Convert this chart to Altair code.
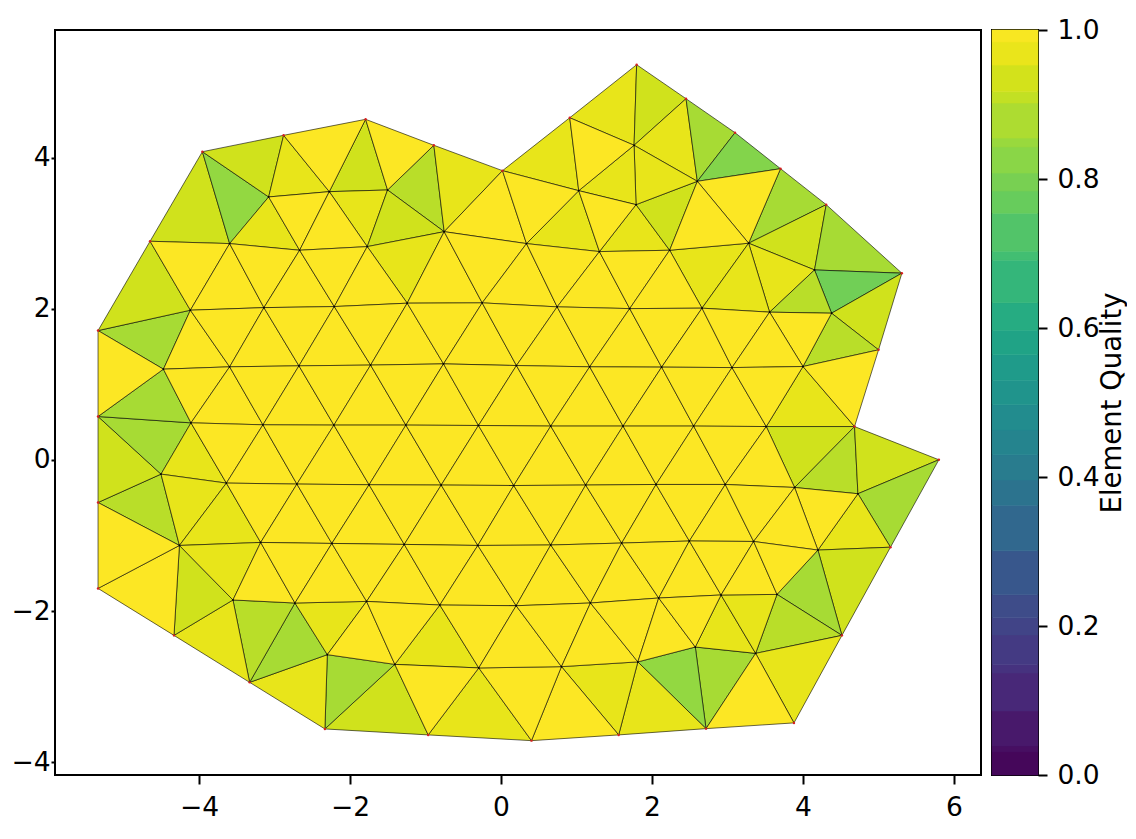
import altair as alt
import pandas as pd

# mesh nodes: name, x, y
boundary_names = ["B1","B2","B3","B4","B5","B6","B7","B8","B9","B10","B11","B12","B13","B14","B15","B16","B17","B18","B19","B20","B21","B22","B23","B24","B25","B26","B27","B28","B29","B30"]
boundary_x = [-3.955,-2.879,-1.793,-0.889,0.020,0.911,1.797,2.451,3.100,3.703,4.308,5.310,5.001,4.683,5.800,5.159,4.516,3.881,2.716,1.559,0.404,-0.964,-2.332,-3.329,-4.331,-5.337,-5.337,-5.337,-5.337,-4.648]
boundary_y = [4.083,4.300,4.512,4.168,3.832,4.533,5.235,4.785,4.335,3.858,3.382,2.474,1.459,0.443,0.003,-1.155,-2.323,-3.482,-3.558,-3.641,-3.717,-3.641,-3.562,-2.945,-2.323,-1.701,-0.563,0.576,1.714,2.897]

interior_names = ["I1","I2","I3","I4","u1","u2","u3",
    "a1","a2","a3","a4","a5","a6","a7","a8","a9","a10",
    "b1","b2","b3","b4","b5","b6","b7","b8","b9",
    "c1","c2","c3","c4","c5","c6","c7","c8","c9","c10",
    "d1","d2","d3","d4","d5","d6","d7","d8","d9",
    "e0","e1","e2","e3","e4","e5","e6","e7","e8","e9","e10",
    "f1","f2","f3","f4","f5","f6","f7","f8","f9","f10",
    "g1","g2","g3","g4","g5","g6","g7","g8","g9",
    "h1","h2","h3","h4","h5","h6","h7"]
interior_x = [1.763,1.030,1.789,2.601,-3.077,-2.274,-1.502,
    -3.594,-2.667,-1.771,-0.752,0.338,1.304,2.234,3.280,4.153,4.379,
    -4.114,-3.140,-2.208,-1.242,-0.249,0.744,1.705,2.663,3.558,
    -4.471,-3.594,-2.676,-1.727,-0.761,0.205,1.175,2.128,3.060,4.000,
    -4.106,-3.153,-2.213,-1.260,-0.298,0.659,1.617,2.552,3.514,
    -4.503,-3.637,-2.703,-1.747,-0.792,0.169,1.122,2.054,2.971,3.889,4.728,
    -4.259,-3.183,-2.240,-1.281,-0.307,0.659,1.599,2.495,3.346,4.198,
    -3.550,-2.729,-1.780,-0.810,0.201,1.185,2.089,2.915,3.656,
    -2.300,-1.406,-0.294,0.801,1.813,2.574,3.373]
interior_y = [4.168,3.567,3.382,3.691,3.484,3.554,3.576,
    2.866,2.778,2.826,3.024,2.866,2.760,2.778,2.871,2.517,1.944,
    1.984,2.018,2.032,2.077,2.081,2.028,2.005,2.011,1.958,
    1.203,1.234,1.247,1.257,1.273,1.251,1.234,1.230,1.224,1.238,
    0.492,0.466,0.462,0.462,0.457,0.449,0.449,0.449,0.443,
    -0.187,-0.306,-0.319,-0.328,-0.332,-0.338,-0.332,-0.324,-0.324,-0.364,-0.447,
    -1.132,-1.092,-1.105,-1.118,-1.132,-1.126,-1.100,-1.073,-1.079,-1.193,
    -1.854,-1.894,-1.873,-1.921,-1.930,-1.894,-1.828,-1.788,-1.780,
    -2.578,-2.707,-2.754,-2.737,-2.674,-2.477,-2.561]

# element quality levels read from the fill colours
Y, L, M, N, P, Q, R, S = 0.998, 0.965, 0.93, 0.895, 0.87, 0.84, 0.815, 0.785

elements_off_yellow = [
 ("B30 B1 a1",M),("B1 u1 a1",Q),("B1 B2 u1",M),("B2 u2 u1",L),("B3 u3 u2",M),("B4 a4 u3",N),("B4 B5 a4",L),
 ("B5 B6 I2",L),("B6 B7 I1",L),("B7 B8 I1",M),("I1 B8 I4",L),("B8 B9 I4",P),("B9 B10 I4",R),("B10 B11 a8",P),
 ("B11 a9 a8",M),("B11 B12 a9",P),("a9 B12 a10",S),("a8 a9 b9",L),("a9 a10 b9",N),("a10 B12 B13",M),("a10 B13 c10",N),
 ("d9 c10 B14",L),("d9 B14 e9",M),("B14 e10 e9",N),("B14 B15 e10",M),("e10 B15 B16",P),("f10 e10 B16",L),("f10 B16 B17",M),
 ("g9 f10 B17",P),("g9 B17 h7",N),("h7 B17 B18",L),("h6 h7 B19",P),("h5 h6 B19",Q),("h5 B19 B20",L),("h4 h5 B20",L),
 ("h3 B21 B22",L),("h2 B22 B23",M),("h1 h2 B23",P),("h1 B23 B24",L),("B24 g2 h1",P),("g1 g2 B24",N),("g1 B24 B25",L),
 ("f1 g1 B25",M),("e0 f1 B27",N),("e0 B27 B28",M),("d1 e0 B28",P),("c1 d1 B28",P),("b1 c1 B29",P),("b1 B29 B30",M),
 ("u1 a1 a2",L),("u2 u3 a3",L),("u3 a4 a3",M),("a3 a4 b4",L),("a5 I2 a6",L),("a6 I3 a7",L),("I3 I4 a7",M),("I3 I1 I4",L),
 ("I2 I1 I3",L),("a7 a8 b8",L),("a8 b9 b8",L),("d1 e1 e0",L),("e0 e1 f1",L),("e1 f1 f2",L),("f1 f2 g1",L),("g2 g3 h1",L),
 ("g4 h2 h3",L),("g8 h6 h7",L),("g8 g9 h7",L),
]
elements_yellow = """B2 B3 u2;B3 B4 u3;B5 a5 a4;B5 I2 a5;B6 I1 I2;I4 B10 a8;b9 a10 c10;c10 B13 B14;e9 e10 f10;h7 B18 B19;
h4 B20 B21;h3 h4 B21;h2 h3 B22;f1 B25 B26;f1 B26 B27;c1 B28 B29;a1 b1 B30;b1 b2 a1;a1 a2 b2;u1 u2 a2;u2 a3 a2;
a4 b5 b4;a4 a5 b5;a5 b6 b5;a5 a6 b6;a6 b7 b6;I2 I3 a6;I4 a8 a7;a6 a7 b7;a7 b8 b7;a2 b3 b2;a2 a3 b3;a3 b4 b3;
c1 c2 b1;b1 b2 c2;c2 c3 b2;b2 b3 c3;c3 c4 b3;b3 b4 c4;c4 c5 b4;b4 b5 c5;c5 c6 b5;b5 b6 c6;c6 c7 b6;b6 b7 c7;c7 c8 b7;b7 b8 c8;c8 c9 b8;b8 b9 c9;c9 c10 b9;
c1 c2 d1;d1 d2 c2;c2 c3 d2;d2 d3 c3;c3 c4 d3;d3 d4 c4;c4 c5 d4;d4 d5 c5;c5 c6 d5;d5 d6 c6;c6 c7 d6;d6 d7 c7;c7 c8 d7;d7 d8 c8;c8 c9 d8;d8 d9 c9;c9 c10 d9;
d1 d2 e1;d2 e1 e2;d2 d3 e2;d3 e2 e3;d3 d4 e3;d4 e3 e4;d4 d5 e4;d5 e4 e5;d5 d6 e5;d6 e5 e6;d6 d7 e6;d7 e6 e7;d7 d8 e7;d8 e7 e8;d8 d9 e8;d9 e8 e9;
e1 e2 f2;e2 f2 f3;e2 e3 f3;e3 f3 f4;e3 e4 f4;e4 f4 f5;e4 e5 f5;e5 f5 f6;e5 e6 f6;e6 f6 f7;e6 e7 f7;e7 f7 f8;e7 e8 f8;e8 f8 f9;e8 e9 f9;e9 f9 f10;
f2 g1 g2;f2 f3 g2;f3 g2 g3;f3 f4 g3;f4 g3 g4;f4 f5 g4;f5 g4 g5;f5 f6 g5;f6 g5 g6;f6 f7 g6;f7 g6 g7;f7 f8 g7;f8 g7 g8;f8 f9 g8;f9 g8 g9;f9 f10 g9;
g3 h1 h2;g3 g4 h2;g4 g5 h3;g5 h3 h4;g5 g6 h4;g6 h4 h5;g6 g7 h5;g7 h5 h6;g7 g8 h6"""

# colourbar band edges
band_edges = [0,.031,.039,.086,.137,.148,.188,.211,.242,.301,.362,.396,.43,.463,.497,.53,.564,.597,.634,.691,.703,.754,.784,.808,.843,.855,.902,.917,.953,.984,1.0]

x_ticks = [-4,-2,0,2,4,6]
y_ticks = [-4,-2,0,2,4]
cb_ticks = [0,0.2,0.4,0.6,0.8,1.0]

nodes = {}
for n, x, y in zip(boundary_names + interior_names, boundary_x + interior_x, boundary_y + interior_y):
    nodes[n] = (x, y)

elements = list(elements_off_yellow) + [(s.strip(), Y) for s in elements_yellow.replace("\n", "").split(";")]
rows = []
for i, (tri, q) in enumerate(elements):
    for k, n in enumerate(tri.split()):
        rows.append({"tri": i, "k": k, "x": nodes[n][0], "y": nodes[n][1], "q": q})
mesh = pd.DataFrame(rows)
pts = pd.DataFrame({"x": boundary_x, "y": boundary_y})
inner = pd.DataFrame({"x": interior_x, "y": interior_y})
bands = pd.DataFrame({"lo": band_edges[:-1], "hi": band_edges[1:]})
bands["mid"] = (bands.lo + bands.hi) / 2

xs = alt.Scale(domain=[-5.907, 6.358], nice=False, zero=False)
ys = alt.Scale(domain=[-4.172, 5.695], nice=False, zero=False)
cs = alt.Scale(scheme="viridis", domain=[0, 1])
FONT = "DejaVu Sans"
FS = 26.5

x_axis = alt.Axis(values=x_ticks, title=None, grid=False, domain=False, tickSize=9, tickWidth=2, tickColor="black",
                  labelFont=FONT, labelFontSize=FS, labelColor="black", labelPadding=10, format="d")
y_axis = alt.Axis(values=y_ticks, title=None, grid=False, domain=False, tickSize=4, tickWidth=2, tickColor="black",
                  labelFont=FONT, labelFontSize=FS, labelColor="black", labelPadding=1, format="d", minExtent=46, maxExtent=46)

tris = alt.Chart(mesh).mark_line(interpolate="linear-closed", stroke="#000000", strokeWidth=0.6).encode(
    x=alt.X("x:Q", scale=xs, axis=x_axis),
    y=alt.Y("y:Q", scale=ys, axis=y_axis),
    detail="tri:N",
    order="k:O",
    fill=alt.Fill("q:Q", scale=cs, legend=None),
)
inner_dots = alt.Chart(inner).mark_circle(size=3, color="#000000", opacity=1).encode(
    x=alt.X("x:Q", scale=xs), y=alt.Y("y:Q", scale=ys))
dots = alt.Chart(pts).mark_circle(size=6, color="#d62020", opacity=1).encode(
    x=alt.X("x:Q", scale=xs), y=alt.Y("y:Q", scale=ys))
main = (tris + inner_dots + dots).properties(width=926, height=745)

cbar = alt.Chart(bands).mark_rect(strokeWidth=0.6).encode(
    y=alt.Y("lo:Q", scale=alt.Scale(domain=[0, 1], nice=False),
            axis=alt.Axis(orient="right", values=cb_ticks, format=".1f", title="Element Quality", grid=False, domain=False,
                          tickSize=9, tickWidth=2, tickColor="black", labelFont=FONT, labelFontSize=FS, labelColor="black",
                          labelPadding=10, titleFont=FONT, titleFontSize=27.5, titleFontWeight="normal", titleColor="black",
                          titlePadding=-1, titleAngle=270, titleBaseline="top")),
    y2="hi:Q",
    fill=alt.Fill("mid:Q", scale=cs, legend=None),
    stroke=alt.Stroke("mid:Q", scale=cs, legend=None),
).properties(width=46, height=745)

chart = alt.hconcat(main, cbar, spacing=8).properties(padding={"left": 0, "top": 8, "right": 0, "bottom": 0}).configure_view(stroke="black", strokeWidth=2)
chart.save("out.html", embed_options={"renderer": "svg", "actions": False})
